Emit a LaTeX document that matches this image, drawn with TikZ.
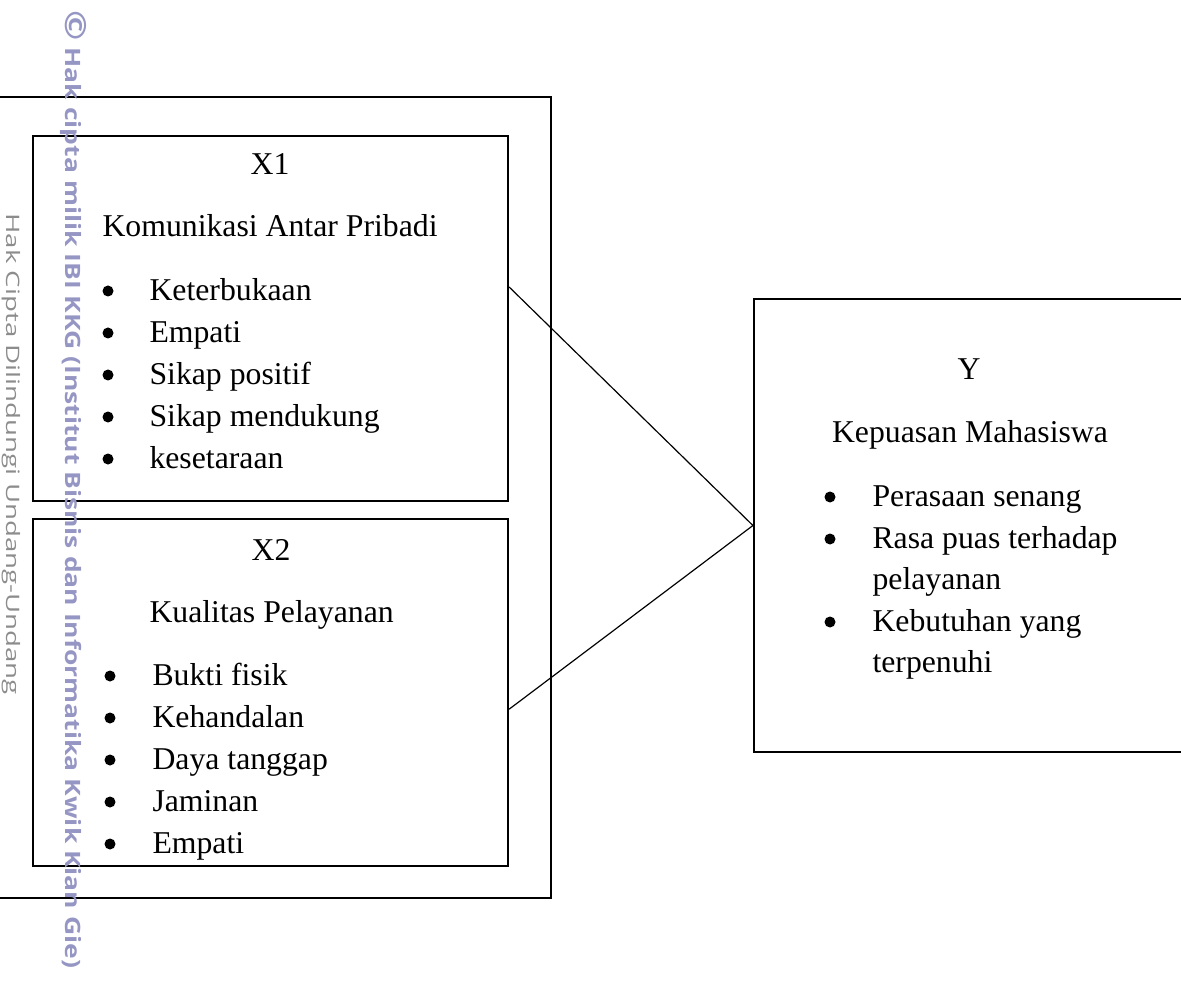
\documentclass[tikz,border=0pt]{standalone}
\usepackage{fontspec}
\usepackage{graphicx}
\setmainfont{Liberation Serif}
\newfontfamily\wmfont{Open Sans}
\usetikzlibrary{calc}
\definecolor{wmblue}{RGB}{150,150,196}
\definecolor{wmgrey}{RGB}{140,140,140}
\begin{document}
\begin{tikzpicture}[x=0.378pt,y=-0.378pt,
  box/.style={draw, line width=0.8pt, inner sep=0pt, rectangle},
  link/.style={draw, line width=0.45pt},
  txt/.style={inner sep=0pt, font=\fontsize{12}{15.9}\selectfont},
  bul/.style={fill=black}]
\useasboundingbox (0,0) rectangle (1181,989);
% boxes
\node[box, minimum width={561*0.378pt}, minimum height={801*0.378pt}] (outer) at (270.5,497.5) {};
\node[box, minimum width={475*0.378pt}, minimum height={365*0.378pt}] (x1) at (270.5,318.5) {};
\node[box, minimum width={475*0.378pt}, minimum height={347*0.378pt}] (x2) at (270.5,692.5) {};
\node[box, minimum width={441*0.378pt}, minimum height={453*0.378pt}] (y) at (974.5,525.5) {};
% connectors
\coordinate (a1) at ($(x1.north east)!0.414!(x1.south east)$);
\coordinate (a2) at ($(x2.north east)!0.548!(x2.south east)$);
\draw[link] (a1) -- (y.west) -- (a2);
% X1 text
\node[txt, anchor=base] (x1t) at (270,175) {X1};
\node[txt, anchor=base west] (x1s) at (102,237) {Komunikasi Antar Pribadi};
\foreach \t [count=\i] in {Keterbukaan,Empati,Sikap positif,Sikap mendukung,kesetaraan}{
  \node[txt, anchor=base west] (x1i\i) at (149,{258+42*\i}) {\t};
  \fill[bul] (108,{249+42*\i}) circle (5.5);
}
% X2 text
\node[txt, anchor=base] (x2t) at (271,560) {X2};
\node[txt, anchor=base west] (x2s) at (149,622) {Kualitas Pelayanan};
\foreach \t [count=\i] in {Bukti fisik,Kehandalan,Daya tanggap,Jaminan,Empati}{
  \node[txt, anchor=base west] (x2i\i) at (152,{643+42*\i}) {\t};
  \fill[bul] (110,{634+42*\i}) circle (5.5);
}
% Y text
\node[txt, anchor=base] (yt) at (969,380) {Y};
\node[txt, anchor=base] (ys) at (970,443) {Kepuasan Mahasiswa};
\node[txt, anchor=base west] (yi1) at (872,506) {Perasaan senang};
\node[txt, anchor=base west] (yi2) at (872,548) {Rasa puas terhadap};
\node[txt, anchor=base west] (yi2b) at (872,589) {pelayanan};
\node[txt, anchor=base west] (yi3) at (872,631) {Kebutuhan yang};
\node[txt, anchor=base west] (yi3b) at (872,672) {terpenuhi};
\fill[bul] (830,497) circle (5.5);
\fill[bul] (830,539) circle (5.5);
\fill[bul] (830,622) circle (5.5);
% watermark
\node[rotate=-90, anchor=mid west, inner sep=0pt, text=wmblue, font=\wmfont\bfseries\fontsize{8}{10}\selectfont] (wm1) at (72,10) {\resizebox{362pt}{\height}{{\fontsize{11}{11}\selectfont ©} Hak cipta milik IBI KKG (Institut Bisnis dan Informatika Kwik Kian Gie)}};
\node[rotate=-90, anchor=mid west, inner sep=0pt, text=wmgrey, font=\wmfont\fontsize{7}{9}\selectfont] (wm2) at (13,213) {\resizebox{182pt}{\height}{Hak Cipta Dilindungi Undang-Undang}};
\end{tikzpicture}
\end{document}
